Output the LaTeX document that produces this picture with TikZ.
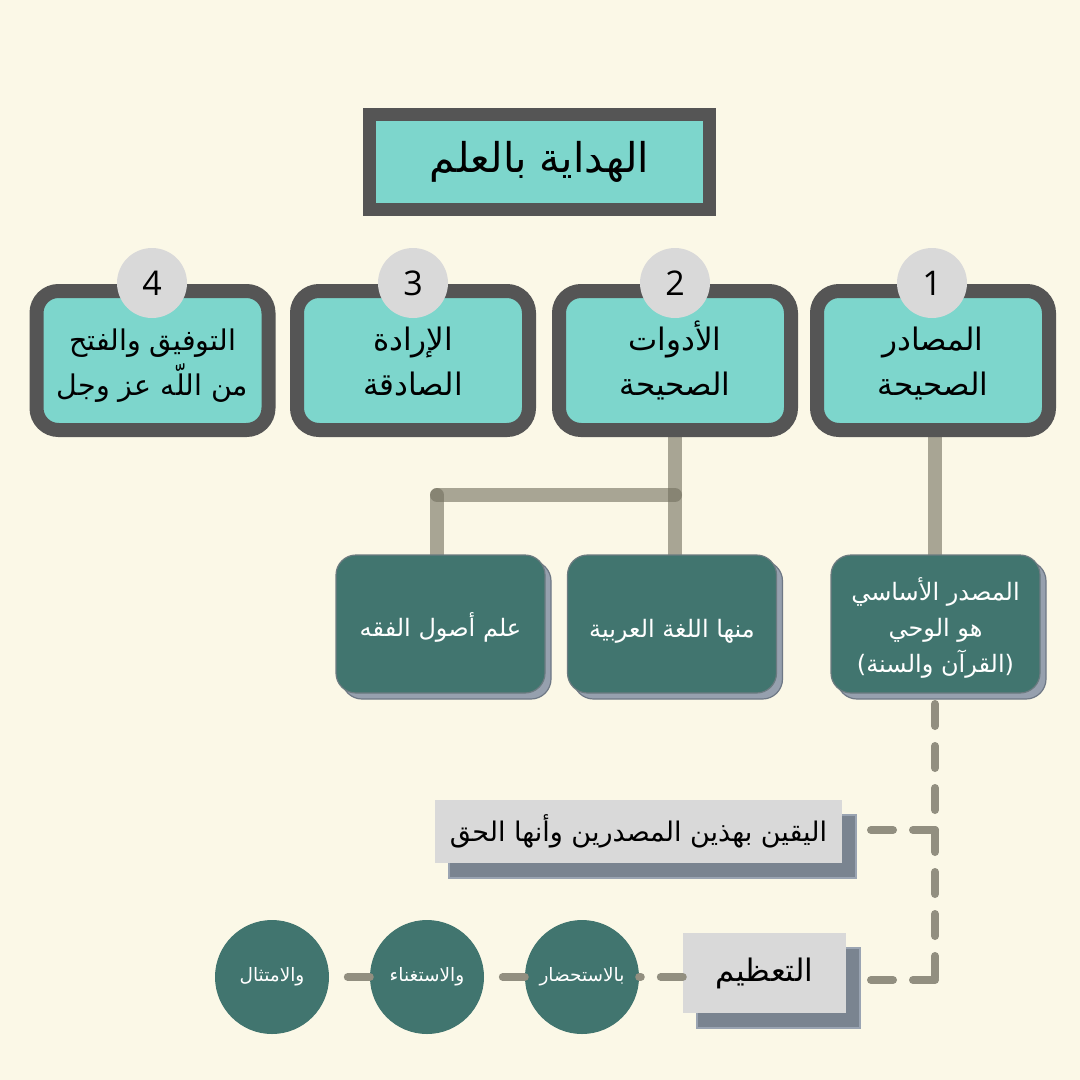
\documentclass[tikz,border=0pt]{standalone}
\usepackage{fontspec}
\setmainfont{Open Sans}
\newfontfamily\arabicfont[Script=Arabic]{DejaVu Sans}
\TeXXeTstate=1
\usetikzlibrary{shadows}
\newcommand\AR[1]{{\arabicfont\beginR #1\endR}}
\newcommand\DropTxt[2]{\raisebox{-#1}[\height][\depth]{\begin{tabular}{@{}c@{}}#2\end{tabular}}}
\definecolor{bgc}{HTML}{FBF8E7}
\definecolor{dgray}{HTML}{555555}
\definecolor{tealL}{HTML}{7DD6CC}
\definecolor{cgray}{HTML}{D9D9D9}
\definecolor{connc}{HTML}{716E5E}
\definecolor{dteal}{HTML}{41756F}
\definecolor{tborder}{HTML}{6B7B80}
\definecolor{shadA}{HTML}{96A0AE}
\definecolor{shadAb}{HTML}{6E7885}
\definecolor{dashc}{HTML}{928F80}
\definecolor{lgray}{HTML}{D9D9D9}
\definecolor{shadB}{HTML}{7A8490}
\definecolor{shadBb}{HTML}{9AA4B2}
\begin{document}
\begin{tikzpicture}[x=1pt,y=-1pt,
  titlebox/.style={draw=dgray, line width=13pt, fill=tealL, minimum width=340pt, minimum height=95pt, inner sep=0pt, font=\arabicfont\fontsize{41}{48}\selectfont},
  topbox/.style={draw=dgray, line width=14pt, fill=tealL, rounded corners=22pt, minimum width=232pt, minimum height=139pt, inner sep=0pt, align=center, font=\arabicfont\fontsize{31}{45}\selectfont},
  numc/.style={circle, fill=cgray, minimum size=70pt, inner sep=0pt, font=\fontsize{34}{40}\selectfont},
  subbox/.style={draw=tborder, line width=1.2pt, fill=dteal, rounded corners=20pt, minimum width=209pt, minimum height=138pt, inner sep=0pt, text=white, align=center, font=\arabicfont\fontsize{24}{36}\selectfont,
     general shadow={fill=shadA, draw=shadAb, line width=1.2pt, shadow xshift=6pt, shadow yshift=-6pt}},
  lbox/.style={fill=lgray, inner sep=0pt, font=\arabicfont\fontsize{27}{32}\selectfont,
     general shadow={fill=shadB, draw=shadBb, line width=1.5pt, shadow xshift=14pt, shadow yshift=-15pt}},
  dcirc/.style={circle, fill=dteal, minimum size=114pt, inner sep=0pt, text=white, font=\arabicfont\fontsize{18.5}{22}\selectfont},
  conn/.style={draw=connc, draw opacity=.6, line width=14pt},
  dashconn/.style={draw=dashc, line width=8pt, line cap=round, dash pattern=on 22pt off 20pt}
]
\fill[bgc] (0,0) rectangle (1080,1080);
\useasboundingbox (0,0) rectangle (1080,1080);

% connectors (behind boxes)
\coordinate (j2) at (675,495);
\coordinate (j3) at (437,495);
\coordinate (a1) at (935,432);
\coordinate (a2) at (935,560);
\coordinate (b1) at (675,432);
\coordinate (b2) at (675,560);
\coordinate (c2) at (437,560);
\draw[conn] (a1) -- (a2);
\draw[conn] (b1) -- (b2);
\draw[conn, line cap=round] (j2) -- (j3);
\draw[conn, line cap=round] (j3) -- (c2);

% title
\node[titlebox] (title) at (539.5,162) {\AR{الهداية بالعلم}};

% top boxes
\node[topbox] (t1) at (933,360.5) {\DropTxt{3pt}{\AR{المصادر}\\\AR{الصحيحة}}};
\node[topbox] (t2) at (675,360.5) {\DropTxt{3pt}{\AR{الأدوات}\\\AR{الصحيحة}}};
\node[topbox] (t3) at (413,360.5) {\DropTxt{3pt}{\AR{الإرادة}\\\AR{الصادقة}}};
\node[topbox, font=\arabicfont\fontsize{28.5}{45}\selectfont] (t4) at (152.5,360.5) {\DropTxt{3pt}{\AR{التوفيق والفتح}\\\AR{من اللّه عز وجل}}};

\node[numc] (n1) at (932,283) {1};
\node[numc] (n2) at (675,283) {2};
\node[numc] (n3) at (413,283) {3};
\node[numc] (n4) at (152,283) {4};

% sub boxes
\node[subbox] (A) at (935.5,624) {\DropTxt{5pt}{\AR{المصدر الأساسي}\\\AR{هو الوحي}\\\AR{(القرآن والسنة)}}};
\node[subbox] (B) at (672,624) {\DropTxt{6pt}{\AR{منها اللغة العربية}}};
\node[subbox] (C) at (440.5,624) {\DropTxt{5pt}{\AR{علم أصول الفقه}}};

% light boxes
\node[lbox, minimum width=407pt, minimum height=63pt] (Y) at (638.5,831.5) {\AR{اليقين بهذين المصدرين وأنها الحق}};
\node[lbox, minimum width=163pt, minimum height=80pt, font=\arabicfont\fontsize{31}{36}\selectfont] (T) at (764.5,973) {\AR{التعظيم}};

% circles
\node[dcirc] (k1) at (582,977) {\AR{بالاستحضار}};
\node[dcirc] (k2) at (427,977) {\AR{والاستغناء}};
\node[dcirc] (k3) at (272,977) {\AR{والامتثال}};

% dashed connectors
\coordinate (d0) at (935,704);
\coordinate (d1) at (935,830);
\coordinate (d2) at (935,980);
\coordinate (yend) at (864,830);
\coordinate (tend) at (864,980);
\draw[dashconn] (d0) -- (d2);
\draw[dashconn] (d1) -- (yend);
\draw[dashconn] (d2) -- (tend);
\draw[dashconn] (k1.east -| T.west) -- (k1.east);
\draw[dashconn] (k1.west) -- (k2.east);
\draw[dashconn] (k2.west) -- (k3.east);
\end{tikzpicture}
\end{document}
